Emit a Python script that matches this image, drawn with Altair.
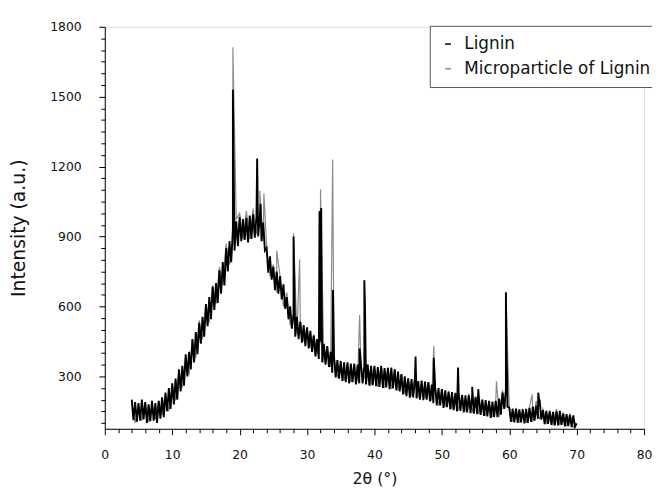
import altair as alt
import numpy as np
import pandas as pd

# ---- scan grid (2theta) ----
LIGNIN_START, LIGNIN_STEP = 4.0, 0.25
MICRO_START, MICRO_STEP = 4.0, 0.5

# Lignin (black) intensities on the 0.25 deg grid, 4..70 (noise band)
lignin_y = [
    200, 112, 190, 105,   # 4
    185, 110, 200, 115,   # 5
    190, 100, 180, 108,   # 6
    195, 110, 185, 100,   # 7
    195, 118, 210, 125,   # 8
    230, 150, 250, 160,   # 9
    270, 180, 290, 200,   # 10
    330, 235, 345, 260,   # 11
    395, 300, 405, 330,   # 12
    460, 360, 490, 395,   # 13
    530, 440, 555, 470,   # 14
    610, 515, 640, 545,   # 15
    685, 585, 700, 615,   # 16
    755, 655, 790, 690,   # 17
    850, 750, 880, 790,   # 18
    930, 840, 965, 860,   # 19
    985, 880, 975, 885,   # 20
    980, 875, 990, 890,   # 21
    995, 895, 985, 900,   # 22
    985, 880, 960, 840,   # 23
    850, 745, 815, 715,   # 24
    770, 670, 750, 655,   # 25
    730, 630, 695, 590,   # 26
    640, 545, 600, 505,   # 27
    565, 470, 555, 460,   # 28
    535, 445, 520, 430,   # 29
    510, 420, 495, 405,   # 30
    475, 385, 460, 375,   # 31
    450, 360, 440, 350,   # 32
    430, 340, 405, 315,   # 33
    385, 295, 370, 290,   # 34
    365, 280, 360, 275,   # 35
    360, 270, 355, 275,   # 36
    355, 265, 350, 270,   # 37
    350, 270, 345, 265,   # 38
    350, 260, 345, 262,   # 39
    345, 258, 340, 255,   # 40
    345, 250, 335, 252,   # 41
    335, 245, 338, 248,   # 42
    330, 240, 320, 235,   # 43
    310, 222, 300, 215,   # 44
    292, 208, 288, 210,   # 45
    285, 205, 280, 200,   # 46
    282, 198, 278, 200,   # 47
    275, 192, 265, 185,   # 48
    255, 175, 250, 175,   # 49
    245, 165, 240, 168,   # 50
    235, 158, 232, 155,   # 51
    228, 150, 225, 152,   # 52
    220, 145, 218, 145,   # 53
    218, 142, 222, 140,   # 54
    212, 138, 208, 135,   # 55
    200, 130, 198, 128,   # 56
    195, 122, 192, 125,   # 57
    195, 125, 205, 135,   # 58
    230, 160, 245, 170,   # 59
    165, 105, 162, 102,   # 60
    160, 100, 158, 102,   # 61
    158, 98, 160, 100,    # 62
    165, 105, 170, 110,   # 63
    175, 118, 180, 115,   # 64
    155, 95, 152, 96,     # 65
    150, 92, 148, 90,     # 66
    150, 90, 152, 92,     # 67
    140, 85, 138, 86,     # 68
    135, 82, 132, 84,     # 69
    98,                   # 70
]
lignin_peak_x = [19.0, 22.6, 23.1, 28.0, 31.85, 31.95, 32.1, 33.85, 37.8, 38.5, 38.6,
                 46.1, 48.8, 52.4, 54.5, 55.4, 59.5, 59.6, 64.3, 64.5]
lignin_peak_y = [1530, 1235, 1040, 900, 1010, 980, 1022, 670, 420, 712, 600,
                 385, 380, 338, 255, 245, 661, 420, 230, 200]

# Microparticle of Lignin (grey) intensities on the 0.5 deg grid, 4..70
micro_y = [
    190, 100, 170, 110, 185, 105, 175, 115, 195, 135,   # 4-8
    225, 150, 270, 195, 325, 250, 390, 305, 460, 380,   # 9-13
    540, 460, 610, 530, 690, 610, 770, 690, 870, 780,   # 14-18
    870, 975, 1000, 890, 1010, 890, 1020, 910, 1000, 880,  # 19-23
    860, 730, 780, 660, 730, 600, 660, 520, 570, 480,   # 24-28
    535, 450, 510, 425, 480, 395, 450, 360, 430, 340,   # 29-33
    385, 295, 360, 280, 355, 275, 350, 280, 345, 290,   # 34-38
    350, 260, 340, 255, 345, 250, 340, 245, 330, 240,   # 39-43
    310, 225, 290, 215, 305, 210, 280, 205, 275, 195,   # 44-48
    255, 175, 245, 170, 235, 160, 230, 155, 220, 150,   # 49-53
    225, 145, 210, 140, 200, 130, 190, 125, 200, 125,   # 54-58
    240, 165, 170, 105, 165, 100, 160, 100, 170, 105,   # 59-63
    195, 115, 160, 95, 155, 90, 160, 90, 145, 85,       # 64-68
    140, 80, 95,                                        # 69-70
]
micro_peak_x = [19.0, 23.0, 23.6, 25.5, 28.0, 28.9, 32.0, 33.8, 37.8, 48.8, 58.1, 59.5, 63.4]
micro_peak_y = [1712, 1095, 1085, 840, 913, 801, 1103, 1230, 563, 431, 279, 650, 223]

SERIES = ["Lignin", "Microparticle of Lignin"]
COLORS = ["#000000", "#8c8c8c"]


def build(start, step, ys, px, py, name):
    xs = [round(start + step * i, 3) for i in range(len(ys))]
    df = pd.DataFrame({"x": xs + list(px), "y": list(ys) + list(py)})
    df = df.sort_values("x", kind="stable").reset_index(drop=True)
    df["order"] = range(len(df))
    df["series"] = name
    return df


lig = build(LIGNIN_START, LIGNIN_STEP, lignin_y, lignin_peak_x, lignin_peak_y, SERIES[0])
mic = build(MICRO_START, MICRO_STEP, micro_y, micro_peak_x, micro_peak_y, SERIES[1])

FONT = "DejaVu Sans"

x_axis = alt.Axis(
    values=list(range(0, 81, 2)),
    labelExpr="datum.value % 10 === 0 ? datum.label : ''",
    tickSize={"condition": {"test": "datum.value % 10 === 0", "value": 6}, "value": 4},
    title="2θ (°)",
    titleFont=FONT, titleFontSize=16, titleFontWeight="normal", titleColor="#111",
    titleX=273, titleY=50, titleBaseline="middle",
    labelFont=FONT, labelFontSize=12.5, labelColor="#111", labelPadding=14,
    domainColor="#000", tickColor="#000", grid=False, labelFlush=False, format="d",
)
y_axis = alt.Axis(
    values=list(range(100, 1801, 50)),
    labelExpr="datum.value % 300 === 0 ? datum.label : ''",
    tickSize={"condition": {"test": "datum.value % 300 === 0", "value": 6}, "value": 4},
    title="Intensity (a.u.)",
    titleFont=FONT, titleFontSize=19, titleFontWeight="normal", titleColor="#111",
    titleAngle=-90, titleX=-87.5, titleY=203.5, titleBaseline="middle", titleAlign="center",
    labelFont=FONT, labelFontSize=12.5, labelColor="#111", labelPadding=18,
    domainColor="#000", tickColor="#000", grid=False, labelFlush=False, format="d",
)

color = alt.Color(
    "series:N",
    scale=alt.Scale(domain=SERIES, range=COLORS),
    legend=alt.Legend(
        orient="none", legendX=329, legendY=-1, title=None,
        strokeColor="#555", fillColor="white", padding=10,
        labelFont=FONT, labelFontSize=17, labelColor="#111", labelLimit=0,
        symbolType="stroke", symbolSize=36, symbolStrokeWidth=1.5,
        labelOffset=8, rowPadding=7,
    ),
)

xs = alt.X("x:Q", scale=alt.Scale(domain=[0, 80], nice=False), axis=x_axis)
ys = alt.Y("y:Q", scale=alt.Scale(domain=[75, 1800], nice=False, zero=False), axis=y_axis)

grey = alt.Chart(mic).mark_line(strokeWidth=1.2).encode(x=xs, y=ys, color=color, order="order:Q")
black = alt.Chart(lig).mark_line(strokeWidth=1.9).encode(x=xs, y=ys, color=color, order="order:Q")

chart = alt.layer(grey, black).properties(
    width=546, height=407,
    autosize=alt.AutoSizeParams(type="none"),
    padding={"left": 98, "top": 16, "right": 8, "bottom": 62},
).configure_view(stroke=None).configure(background="white")

chart.save("out.html", embed_options={"renderer": "svg", "actions": False})
